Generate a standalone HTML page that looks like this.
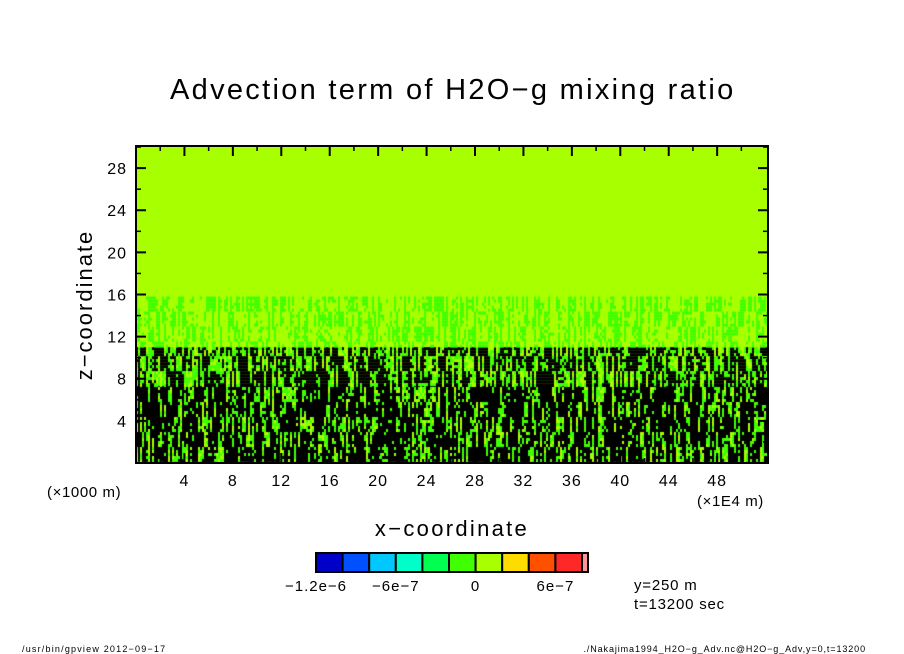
<!DOCTYPE html>
<html><head><meta charset="utf-8"><style>
body{margin:0;background:#fff;width:904px;height:654px;overflow:hidden;position:relative;font-family:"Liberation Sans",sans-serif}
.t{position:absolute;white-space:nowrap;color:#000}
</style></head><body>
<div class="t" style="left:170px;top:74px;font-size:29px;letter-spacing:2.3px">Advection term of H2O−g mixing ratio</div>
<svg width="904" height="654" style="position:absolute;left:0;top:0">
<foreignObject x="136" y="146" width="632" height="317"><canvas id="cv" width="632" height="317" xmlns="http://www.w3.org/1999/xhtml"></canvas></foreignObject>
<rect x="136" y="146" width="632" height="317" fill="none" stroke="#000" stroke-width="2"/>
<g id="axes"></g>
<g id="cbar"></g>
<text x="92" y="305" font-size="22" letter-spacing="2" transform="rotate(-90 92 305)" text-anchor="middle" font-family="Liberation Sans">z−coordinate</text>
<text x="452" y="536" font-size="22" letter-spacing="2.3" text-anchor="middle" font-family="Liberation Sans">x−coordinate</text>
<text x="47" y="497" font-size="15" letter-spacing="0.6" font-family="Liberation Sans">(×1000 m)</text>
<text x="697" y="506" font-size="15" letter-spacing="0.6" font-family="Liberation Sans">(×1E4 m)</text>
<text x="634" y="590" font-size="15" letter-spacing="0.8" font-family="Liberation Sans">y=250 m</text>
<text x="634" y="609" font-size="15" letter-spacing="0.8" font-family="Liberation Sans">t=13200 sec</text>
<text x="22" y="652" font-size="9" letter-spacing="1.2" font-family="Liberation Sans">/usr/bin/gpview   2012−09−17</text>
<text x="866" y="652" font-size="9" letter-spacing="0.9" text-anchor="end" font-family="Liberation Sans">./Nakajima1994_H2O−g_Adv.nc@H2O−g_Adv,y=0,t=13200</text>
</svg>
<script>
const xTicks=[4,8,12,16,20,24,28,32,36,40,44,48];
const xMinor=[2,6,10,14,18,22,26,30,34,38,42,46,50];
const zTicks=[4,8,12,16,20,24,28];
const zMinor=[2,6,10,14,18,22,26,30];
const cbColors=["#0000c8","#0050ff","#00c8ff","#00ffc8","#00ff50","#40ff00","#a8ff00","#ffdc00","#ff5000","#ff2828","#ff9696"];
const cbLabels=["−1.2e−6","−6e−7","0","6e−7"];
const cbLabelIdx=[0,3,6,9];
// layer structure: z-bottom, z-top, fraction black, fraction green
const layerBottom=[0,7.5,11,15.8];
const layerTop=[7.5,11,15.8,30.2];
const layerBlack=[0.62,0.55,0,0];
const layerGreen=[0.16,0.18,0.45,0];
const X0=136,W=632,Y0=146,H=317,xmin=0,xmax=52.2,zmin=0,zmax=30.1;
const sx=v=>X0+(v-xmin)/(xmax-xmin)*W, sz=v=>Y0+H-(v-zmin)/(zmax-zmin)*H;
const NS="http://www.w3.org/2000/svg";
function mk(p,tag,a,txt){const e=document.createElementNS(NS,tag);for(const k in a)e.setAttribute(k,a[k]);if(txt!=null)e.textContent=txt;p.appendChild(e);return e;}
const ax=document.getElementById('axes');
xTicks.forEach(v=>{const x=sx(v);
 let l=mk(ax,'line',{x1:x,x2:x,y1:463,y2:453,stroke:'#000','stroke-width':2});
 
 let l2=mk(ax,'line',{x1:x,x2:x,y1:146,y2:156,stroke:'#000','stroke-width':2});
 
 let t=mk(ax,'text',{x:x,y:486,'font-size':16,'letter-spacing':1,'text-anchor':'middle','font-family':'Liberation Sans'},String(v));
 });
xMinor.forEach(v=>{const x=sx(v);
 let l=mk(ax,'line',{x1:x,x2:x,y1:463,y2:458,stroke:'#000','stroke-width':1.5});
 
 let l2=mk(ax,'line',{x1:x,x2:x,y1:146,y2:151,stroke:'#000','stroke-width':1.5});
 });
zTicks.forEach(v=>{const y=sz(v);
 let l=mk(ax,'line',{x1:136,x2:146,y1:y,y2:y,stroke:'#000','stroke-width':2});
 
 let l2=mk(ax,'line',{x1:758,x2:768,y1:y,y2:y,stroke:'#000','stroke-width':2});
 
 let t=mk(ax,'text',{x:127,y:y+6,'font-size':16,'letter-spacing':1,'text-anchor':'end','font-family':'Liberation Sans'},String(v));
 });
zMinor.forEach(v=>{const y=sz(v);
 let l=mk(ax,'line',{x1:136,x2:141,y1:y,y2:y,stroke:'#000','stroke-width':1.5});
 
 let l2=mk(ax,'line',{x1:763,x2:768,y1:y,y2:y,stroke:'#000','stroke-width':1.5});
 });
const cb=document.getElementById('cbar');
let bx=316;
cbColors.forEach((c,i)=>{const w=i<10?26.6:6;
 const r=mk(cb,'rect',{x:bx,y:553,width:w,height:19,fill:c,stroke:'#000','stroke-width':2});
 bx+=w;});
cbLabels.forEach((s,i)=>{const t=mk(cb,'text',{x:316+cbLabelIdx[i]*26.6,y:591,'font-size':15,'letter-spacing':1,'text-anchor':'middle','font-family':'Liberation Sans'},s);
 });
// field texture
const ctx=document.getElementById('cv').getContext('2d');
ctx.fillStyle="#a8ff00";ctx.fillRect(0,0,W,H);
function h(a,b){let n=Math.sin(a*127.1+b*311.7)*43758.5453;return n-Math.floor(n);}
for(let L=0;L<layerBottom.length;L++){
 const yt=sz(layerTop[L])-Y0, yb=sz(layerBottom[L])-Y0;
 for(let x=0;x<W;x+=2){for(let y=Math.max(0,yt);y<yb;y+=3){
  const col=Math.floor(x/2);
  const v=h(col,Math.floor(y/15))*0.65+h(col,Math.floor(y/3))*0.35;
  if(v<layerBlack[L])ctx.fillStyle="#000";
  else if(v<layerBlack[L]+layerGreen[L])ctx.fillStyle="#40ff00";
  else continue;
  ctx.fillRect(x,y,2,3);}}}
</script>
</body></html>
